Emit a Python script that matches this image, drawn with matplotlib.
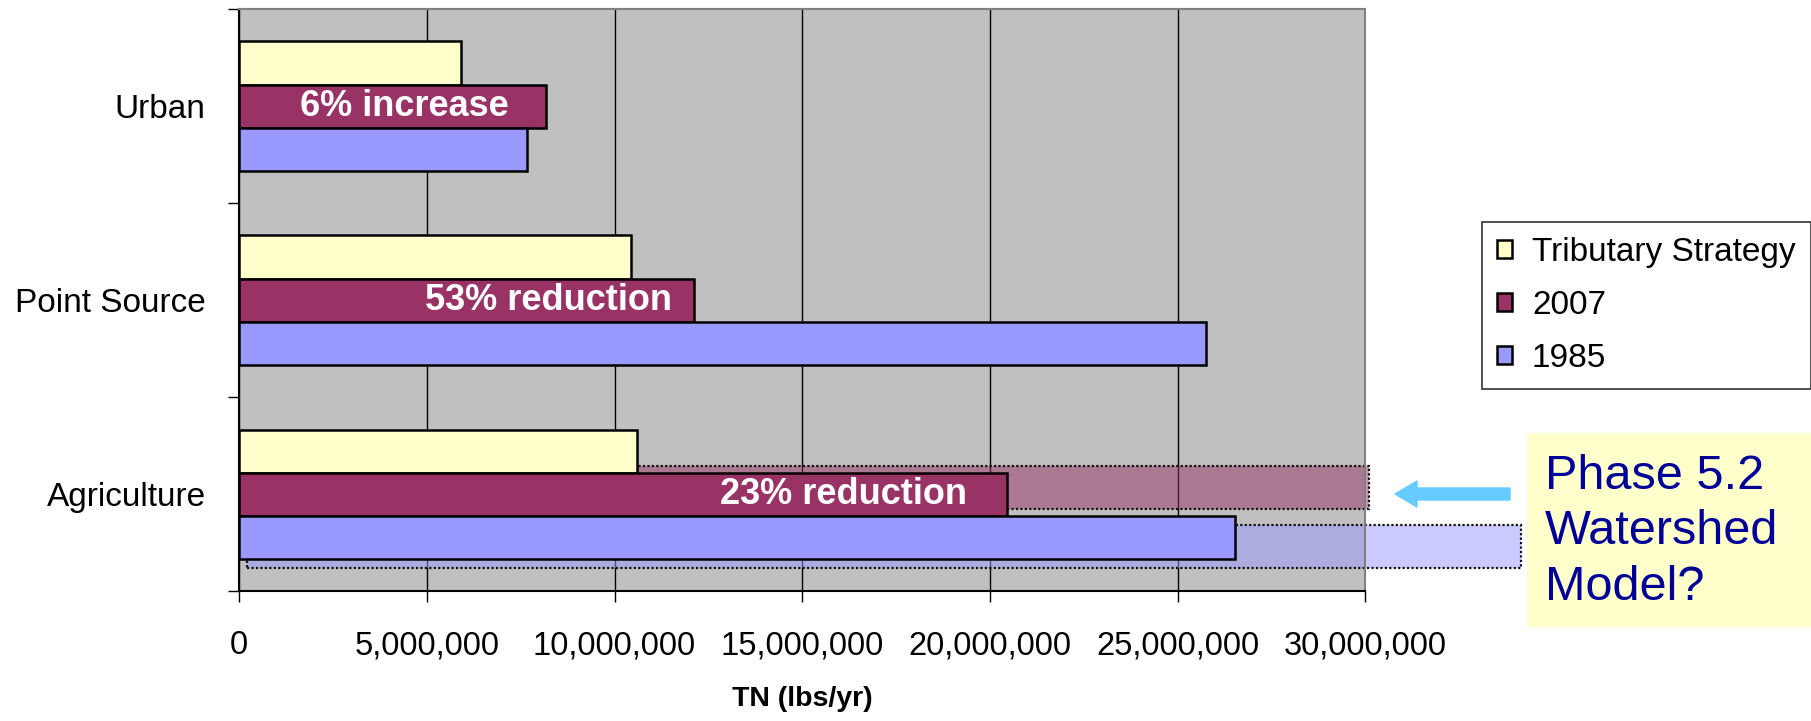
import numpy as np
import matplotlib.pyplot as plt
from matplotlib.patches import Rectangle, FancyArrow

plt.rcParams['font.family'] = ['Liberation Sans', 'DejaVu Sans']

categories = ["Agriculture", "Point Source", "Urban"]
trib_strategy = [10600000, 10450000, 5900000]
y2007 = [20440000, 12110000, 8180000]
y1985 = [26520000, 25750000, 7680000]
change_labels = ["23% reduction", "53% reduction", "6% increase"]
label_x = [16100000, 8240000, 4390000]
# Phase 5.2 estimates for agriculture (2007, 1985)
phase52_2007 = 30100000
phase52_1985 = 34150000

fig = plt.figure(figsize=(18.11, 7.21), dpi=100)
ax = fig.add_axes([0.132, 0.180, 0.622, 0.8075])
ax.set_facecolor('#C0C0C0')

y = np.arange(len(categories))
h = 0.222
ax.barh(y + h, trib_strategy, h, color='#FFFFCC', edgecolor='black', lw=1.8, zorder=3, label='Tributary Strategy')
ax.barh(y, y2007, h, color='#993366', edgecolor='black', lw=1.8, zorder=3, label='2007')
ax.barh(y - h, y1985, h, color='#9999FF', edgecolor='black', lw=1.8, zorder=3, label='1985')

for yi, txt, xx in zip(y, change_labels, label_x):
    ax.text(xx, yi, txt, color='white', fontsize=26, fontweight='bold',
            ha='center', va='center', zorder=5)

# Phase 5.2 overlay boxes on agriculture
x0 = 210000
r1 = Rectangle((x0, 0.036 - h / 2), phase52_2007 - x0, h, facecolor='#993366', alpha=0.5,
               edgecolor='none', zorder=2, clip_on=False)
r2 = Rectangle((x0, -0.268 - h / 2), phase52_1985 - x0, h, facecolor='#9999FF', alpha=0.5,
               edgecolor='none', zorder=2, clip_on=False)
for r in (r1, r2):
    ax.add_patch(r)
    ax.add_patch(Rectangle(r.get_xy(), r.get_width(), r.get_height(), fill=False,
                           edgecolor='#111111', ls=(0, (1, 1)), lw=1.6, zorder=2.5, clip_on=False))

ax.set_xlim(0, 30000000)
ax.set_ylim(-0.5, 2.5)
xt = np.arange(0, 30000001, 5000000)
ax.set_xticks(xt)
ax.set_xticklabels(['0'] + [f'{v:,}' for v in xt[1:]], fontsize=23.5)
ax.xaxis.grid(True, color='black', lw=1)
ax.set_axisbelow(True)
ax.tick_params(axis='x', length=8, width=1, pad=20)

ax.set_yticks([-0.5, 0.5, 1.5, 2.5])
ax.set_yticklabels([])
ax.set_yticks(y, minor=True)
ax.set_yticklabels(categories, minor=True, fontsize=24)
ax.tick_params(axis='y', which='major', length=8, width=1)
ax.tick_params(axis='y', which='minor', length=0, pad=24)

ax.set_xlabel('TN (lbs/yr)', fontsize=20.5, fontweight='bold', labelpad=18)

for s in ['top', 'right']:
    ax.spines[s].set_color('#808080')
    ax.spines[s].set_linewidth(1.5)
for s in ['left', 'bottom']:
    ax.spines[s].set_color('black')
    ax.spines[s].set_linewidth(1.5)

leg = fig.legend(loc='upper left', bbox_to_anchor=(1482 / 1811, 1 - 222 / 721),
                 fontsize=24, frameon=True, fancybox=False, edgecolor='black',
                 handlelength=0.45, handleheight=0.45, handletextpad=0.6,
                 labelspacing=0.66, borderpad=0.45, borderaxespad=0)
leg.get_frame().set_linewidth(1.2)

# Phase 5.2 note box
fig.patches.append(Rectangle((1527 / 1811, 1 - 627 / 721), 0.2, 194 / 721,
                             transform=fig.transFigure, facecolor='#FFFFCC', edgecolor='none'))
fig.text(1545 / 1811, 1 - 532 / 721, 'Phase 5.2\nWatershed\nModel?', color='#000099',
         fontsize=35, ha='left', va='center', linespacing=1.3)
fig.patches.append(FancyArrow(1510 / 1811, 1 - 494 / 721, -115 / 1811, 0, width=12 / 721,
                              head_width=26 / 721, head_length=22 / 1811, length_includes_head=True,
                              transform=fig.transFigure, color='#66CCFF'))

fig.savefig('out.png', dpi=100)
